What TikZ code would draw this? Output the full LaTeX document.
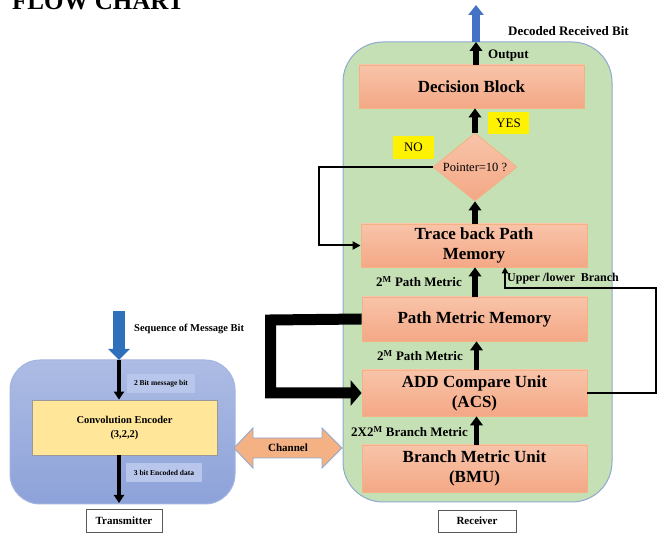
\documentclass[tikz,border=0pt]{standalone}
\usepackage{fontspec}
\setmainfont{Liberation Serif}
\usetikzlibrary{arrows.meta,shapes.geometric}

\definecolor{rxgreen}{HTML}{C5E0B4}
\definecolor{rxedge}{HTML}{8FA9CF}
\definecolor{txtop}{HTML}{ADBCE4}
\definecolor{txbot}{HTML}{8DA2D9}
\definecolor{txedge}{HTML}{A3B4E0}
\definecolor{salmontop}{HTML}{F8C4A9}
\definecolor{salmonbot}{HTML}{F4A886}
\definecolor{salmonedge}{HTML}{F4B183}
\definecolor{chanfill}{HTML}{F4B183}
\definecolor{encfill}{HTML}{FFE699}
\definecolor{taglight}{HTML}{B7C6EA}
\definecolor{outblue}{HTML}{4472C4}
\definecolor{inblue}{HTML}{2E70BA}

\tikzset{
  stage/.style={rectangle, draw=salmonedge, line width=0.8pt,
    top color=salmontop, bottom color=salmonbot,
    font=\bfseries\fontsize{17}{20}\selectfont, align=center,
    minimum width=225pt, inner sep=0pt},
  decide/.style={diamond, draw=salmonedge, line width=0.8pt,
    top color=salmontop, bottom color=salmonbot, aspect=1.235,
    minimum width=84pt, minimum height=68pt, inner sep=0pt,
    font=\fontsize{12.5}{14}\selectfont},
  flag/.style={rectangle, fill=yellow, minimum width=41pt, minimum height=22pt,
    inner sep=0pt, font=\fontsize{13}{15}\selectfont},
  lbl/.style={font=\bfseries\fontsize{13}{15}\selectfont, inner sep=0pt},
  tag/.style={rectangle, fill=taglight, inner sep=0pt, minimum height=19pt,
    font=\bfseries\fontsize{7.5}{9}\selectfont},
  caption/.style={rectangle, draw=gray!70!black, fill=white, line width=0.8pt,
    inner sep=0pt, minimum height=22pt, font=\bfseries\fontsize{11}{13}\selectfont},
  flow/.style={line width=5.5pt, -{Triangle[length=9pt,width=12.5pt]}},
  txflow/.style={line width=4pt, -{Triangle[length=8pt,width=10pt]}},
  thinflow/.style={line width=1.3pt, -{Triangle[length=6pt,width=6.5pt]}},
  noflow/.style={line width=2pt, line join=miter, -{Triangle[length=8pt,width=8pt]}},
}

\begin{document}
\begin{tikzpicture}[x=1pt,y=-1pt]
\useasboundingbox (0,0) rectangle (665,534);

% heading
\node[anchor=base west, inner sep=0pt, font=\bfseries\fontsize{25}{28}\selectfont] (title) at (12,10) {FLOW CHART};

% containers
\node[rectangle, rounded corners=40pt, fill=rxgreen, draw=rxedge, line width=1pt,
      minimum width=269pt, minimum height=460pt, inner sep=0pt] (rx) at (477.5,272) {};
\node[rectangle, rounded corners=30pt, top color=txtop, bottom color=txbot, draw=txedge, line width=1pt,
      minimum width=225pt, minimum height=144pt, inner sep=0pt] (tx) at (122.5,432) {};

% receiver stages
\node[stage, minimum height=43pt] (dec) at (471.5,86.5) {Decision Block};
\node[decide] (ptr) at (475,167) {Pointer=10 ?};
\node[stage, minimum width=226pt, minimum height=43pt] (tb) at (474,245.5) {Trace back Path\\Memory};
\node[stage, minimum height=44pt] (pmm) at (474.5,319) {Path Metric Memory};
\node[stage, minimum height=46pt] (acs) at (474.5,393) {ADD Compare Unit\\(ACS)};
\node[stage, minimum height=47pt] (bmu) at (474.5,468.5) {Branch Metric Unit\\(BMU)};

\node[flag] (yes) at (508.5,123) {YES};
\node[flag, minimum height=23pt] (no) at (413.5,147.5) {NO};

% transmitter parts
\node[rectangle, fill=encfill, draw=gray!80, line width=0.8pt, minimum width=185pt, minimum height=55pt,
      inner sep=0pt, align=center, font=\bfseries\fontsize{10.5}{14}\selectfont] (enc) at (124.5,427.5)
      {Convolution Encoder\\(3,2,2)};
\node[tag, minimum width=68pt] (msgtag) at (161,383.5) {2 Bit message bit};
\node[tag, minimum width=76pt] (enctag) at (164,472.5) {3 bit Encoded data};

% captions
\node[caption, minimum width=76pt, minimum height=23pt] (txcap) at (124,520.5) {Transmitter};
\node[caption, minimum width=78pt] (rxcap) at (477,521) {Receiver};

% text labels
\node[lbl, anchor=base west] (declbl) at (508,36) {Decoded Received Bit};
\node[lbl, anchor=base west] (outlbl) at (488,59) {Output};
\node[lbl, anchor=base west] (pm1) at (376,287) {2\textsuperscript{M} Path Metric};
\node[lbl, anchor=base west] (pm2) at (377,361) {2\textsuperscript{M} Path Metric};
\node[lbl, anchor=base west] (bm) at (351,437) {2X2\textsuperscript{M} Branch Metric};
\node[lbl, anchor=base west, font=\bfseries\fontsize{12}{14}\selectfont] (ul) at (507,282) {Upper /lower\ \ Branch};
\node[lbl, anchor=base west, font=\bfseries\fontsize{10.5}{12}\selectfont] (seq) at (134,332) {Sequence of Message Bit};

% coordinates for free ends
\coordinate (rxtop) at (476,42);
\coordinate (decoded) at (476,5);
\coordinate (msgin) at (119,311);
\coordinate (txtop) at (119,360);
\coordinate (txout) at (119,503);
\coordinate (loopR) at (656,288);
\coordinate (loopL) at (505,288);
\coordinate (noL) at (319,167);
\coordinate (fbL) at (270.5,320);

% receiver flow
\draw[flow] (dec.north -| rxtop) -- (rxtop);
\draw[line width=8pt, outblue, -{Triangle[length=10pt,width=15pt]}] (rxtop) -- (decoded);
\draw[flow] (ptr.north) -- (ptr.north |- dec.south);
\draw[flow] (tb.north -| ptr.south) -- (ptr.south);
\draw[flow] (pmm.north -| ptr.south) -- (tb.south -| ptr.south);
\draw[flow] ([xshift=2pt]acs.north) -- ([xshift=2pt]pmm.south);
\draw[flow] ([xshift=2pt]bmu.north) -- ([xshift=2pt]acs.south);
\draw[noflow] (ptr.west) -- (noL) |- (tb.west);
\draw[thinflow] (acs.east) -| (loopR) -- (loopL) -- (loopL |- tb.south);
\draw[line width=11pt, line join=miter, -{Triangle[length=11pt,width=25pt]}]
  (pmm.west) -- (fbL) -- (fbL |- acs.west) -- (acs.west);

% transmitter flow
\draw[line width=12pt, inblue, -{Triangle[length=11pt,width=21pt]}] (msgin) -- (txtop);
\draw[txflow] (txtop) -- (txtop |- enc.north);
\draw[txflow] (txtop |- enc.south) -- (txout);

% channel between the two sides
\draw[fill=chanfill, draw=rxedge, line width=0.9pt, line join=miter]
  (234,448) -- (253,428) -- (253,438) -- (322,438) -- (322,428) -- (342,448)
  -- (322,468) -- (322,458) -- (253,458) -- (253,468) -- cycle;
\node[font=\bfseries\fontsize{11}{13}\selectfont, inner sep=0pt] (chan) at (288,448) {Channel};
\end{tikzpicture}
\end{document}
